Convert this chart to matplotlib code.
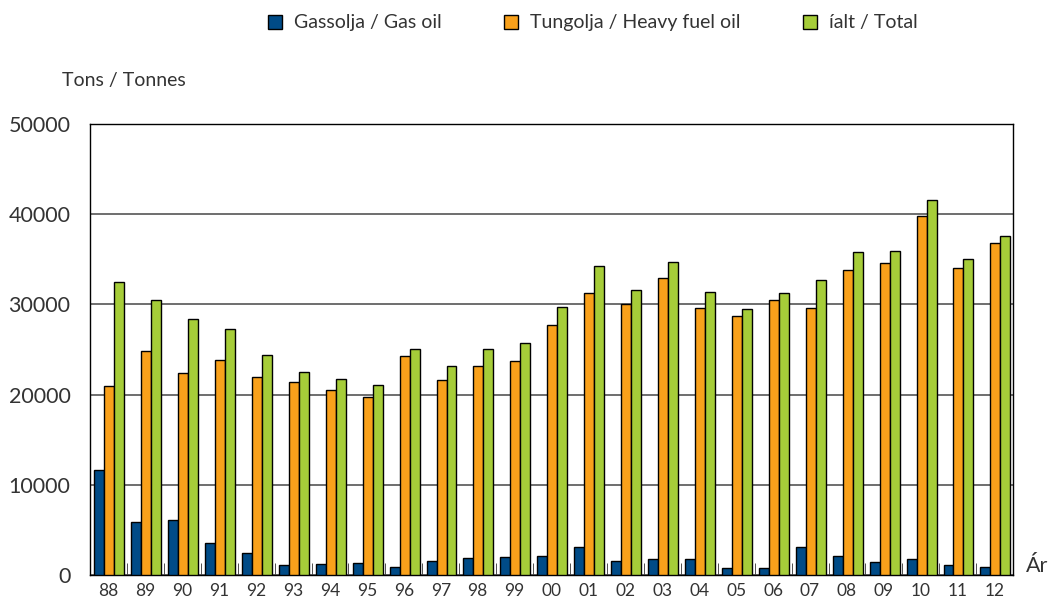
import numpy as np
import matplotlib.pyplot as plt

years = ["88", "89", "90", "91", "92", "93", "94", "95", "96", "97", "98", "99",
         "00", "01", "02", "03", "04", "05", "06", "07", "08", "09", "10", "11", "12"]
gas_oil = [11600, 5900, 6100, 3500, 2400, 1100, 1200, 1300, 900, 1500, 1900, 2000,
           2100, 3100, 1600, 1800, 1800, 800, 800, 3100, 2100, 1400, 1800, 1100, 900]
heavy_oil = [21000, 24800, 22400, 23800, 22000, 21400, 20500, 19700, 24300, 21600, 23200, 23700,
             27700, 31300, 30000, 32900, 29600, 28700, 30500, 29600, 33800, 34600, 39800, 34000, 36800]
total = [32500, 30500, 28400, 27300, 24400, 22500, 21700, 21100, 25100, 23200, 25100, 25700,
         29700, 34300, 31600, 34700, 31400, 29500, 31300, 32700, 35800, 35900, 41600, 35000, 37600]

plt.rcParams['font.family'] = ['Lato', 'DejaVu Sans']
txt = "#333333"

fig = plt.figure(figsize=(10.49, 6.03), dpi=100)
ax = fig.add_axes([0.0858, 0.0464, 0.88, 0.748])

x = np.arange(len(years))
w = 0.27
series = [(gas_oil, "#004b87", "Gassolja / Gas oil"),
          (heavy_oil, "#f9a11b", "Tungolja / Heavy fuel oil"),
          (total, "#a6cd39", "íalt / Total")]
for i, (vals, col, lab) in enumerate(series):
    ax.bar(x + (i - 1) * w + 0.02, vals, width=w, color=col, edgecolor="black",
           linewidth=1.0, label=lab, zorder=3)

ax.set_xlim(-0.5, len(years) - 0.5)
ax.set_ylim(0, 50000)
ax.set_yticks([0, 10000, 20000, 30000, 40000, 50000])
ax.set_xticks(x)
ax.set_xticklabels(years)
ax.set_xticks(np.arange(-0.5, len(years), 1), minor=True)
ax.tick_params(axis="x", which="major", length=0, labelsize=12.5, labelcolor=txt, pad=6)
ax.tick_params(axis="x", which="minor", direction="in", length=9, color="#333333")
ax.tick_params(axis="y", length=0, labelsize=15.5, labelcolor=txt, pad=14)
ax.yaxis.grid(True, color="#555555", linewidth=1.2, zorder=0)
for s in ax.spines.values():
    s.set_color("black")
    s.set_linewidth(1.0)

fig.text(0.059, 0.857, "Tons / Tonnes", fontsize=14, color=txt)
fig.text(0.978, 0.052, "Ár", fontsize=15.5, color=txt)

fig.legend(loc="upper center", bbox_to_anchor=(0.565, 1.005), ncol=3, frameon=False,
           fontsize=14, handlelength=0.75, handleheight=0.75, handletextpad=0.6,
           columnspacing=3.2, labelcolor=txt)

fig.savefig("out.png", dpi=100)
